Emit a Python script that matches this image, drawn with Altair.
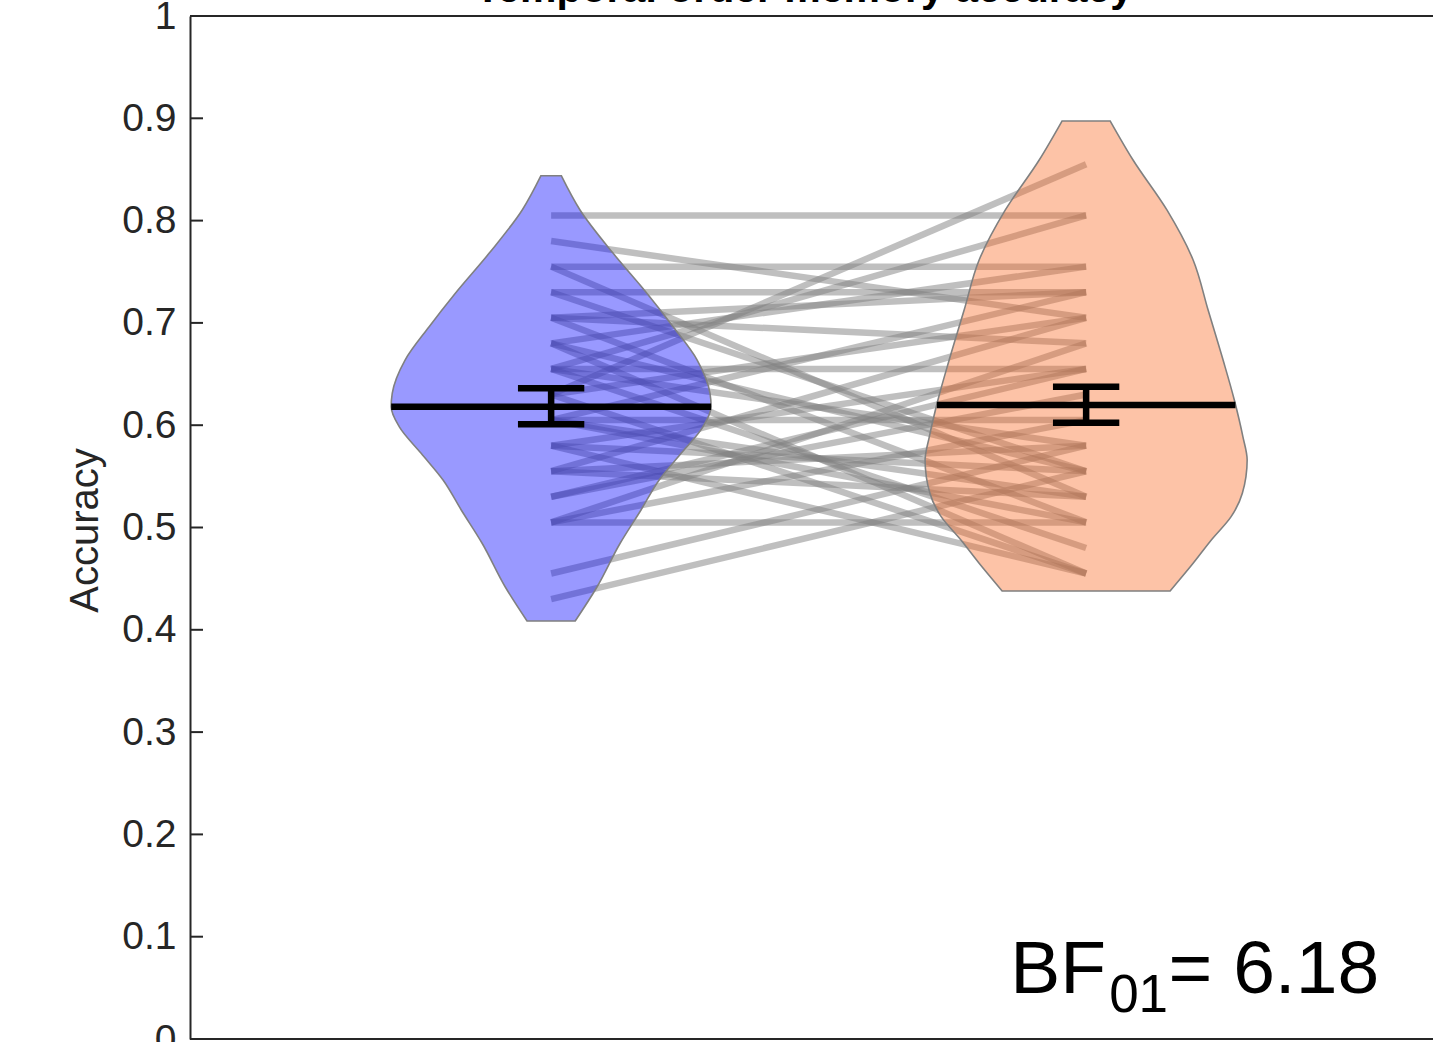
import altair as alt
import pandas as pd

# ---------------- data ----------------
group_pos = [1, 2]

# paired accuracies (left condition -> right condition), one entry per participant
left_acc = [0.805, 0.78, 0.755, 0.755, 0.73, 0.73, 0.705, 0.705, 0.705,
            0.68, 0.68, 0.68, 0.655, 0.655, 0.655, 0.655, 0.63, 0.63, 0.63,
            0.605, 0.605, 0.605, 0.605, 0.58, 0.58, 0.58, 0.555, 0.555, 0.555,
            0.53, 0.53, 0.505, 0.505, 0.505, 0.455, 0.43]
right_acc = [0.805, 0.705, 0.755, 0.53, 0.73, 0.555, 0.68, 0.505, 0.73,
             0.755, 0.555, 0.455, 0.655, 0.58, 0.805, 0.48, 0.855, 0.455, 0.705,
             0.605, 0.73, 0.505, 0.53, 0.655, 0.555, 0.455, 0.705, 0.58, 0.53,
             0.63, 0.655, 0.68, 0.505, 0.605, 0.58, 0.555]

# violin outlines: accuracy level and half-width (x units)
viol_left_y = [0.4086, 0.4421, 0.4846, 0.5171, 0.5464, 0.5725, 0.5986, 0.618,
               0.6312, 0.6637, 0.6963, 0.729, 0.768, 0.8104, 0.8439]
viol_left_hw = [0.045, 0.086, 0.129, 0.168, 0.202, 0.243, 0.284, 0.299,
                0.297, 0.273, 0.228, 0.179, 0.116, 0.054, 0.019]
viol_right_y = [0.438, 0.465, 0.4878, 0.5106, 0.5334, 0.566, 0.5888, 0.6246,
                0.6637, 0.7126, 0.7615, 0.8104, 0.859, 0.8974]
viol_right_hw = [0.157, 0.200, 0.234, 0.271, 0.292, 0.301, 0.293, 0.277,
                 0.256, 0.228, 0.200, 0.151, 0.088, 0.045]

# means and error bars
means = [0.618, 0.6197]
err_lo = [0.601, 0.6025]
err_hi = [0.636, 0.6377]
mean_hw = [0.299, 0.279]
cap_hw = [0.062, 0.062]

tick_values = [0, 0.1, 0.2, 0.3, 0.4, 0.5, 0.6, 0.7, 0.8, 0.9, 1]
bf_parts = ["BF", "01", "= 6.18"]
title_text = ["Temporal order memory accuracy"]
ylabel = "Accuracy"

# ---------------- tables ----------------
pairs = pd.DataFrame({"x1": group_pos[0], "x2": group_pos[1],
                      "y1": left_acc, "y2": right_acc})

rows = []
for g, ys_, hws in [(1, viol_left_y, viol_left_hw), (2, viol_right_y, viol_right_hw)]:
    for y, hw in zip(ys_, hws):
        rows.append({"group": str(g), "y": y, "lo": g - hw, "hi": g + hw})
viol = pd.DataFrame(rows)

stats = pd.DataFrame({"c": group_pos, "m": means, "lo": err_lo, "hi": err_hi,
                      "mhw": mean_hw, "chw": cap_hw})
stats["ml"] = stats["c"] - stats["mhw"]
stats["mr"] = stats["c"] + stats["mhw"]
stats["cl"] = stats["c"] - stats["chw"]
stats["cr"] = stats["c"] + stats["chw"]

ticks = pd.DataFrame({"t": tick_values})

W, H = 1243, 1023
FONT = "Liberation Sans"
AX = "#262626"

xs = alt.Scale(domain=[0.325, 0.325 + W / 535.0], nice=False, zero=False)
ys = alt.Scale(domain=[0, 1], nice=False, zero=False)

yaxis = alt.Axis(values=tick_values, format="~g", ticks=False, grid=False,
                 labelPadding=14, labelFontSize=39, labelFont=FONT, labelColor=AX,
                 domainColor=AX, domainWidth=2, title=ylabel, titleFont=FONT,
                 titleFontSize=40, titleFontWeight="normal", titleColor=AX,
                 titleX=-105, titleY=514, titleBaseline="middle", titleAlign="center")

lines = alt.Chart(pairs).mark_rule(color="#808080", opacity=0.5, strokeWidth=6.5,
                                   strokeCap="butt").encode(
    x=alt.X("x1:Q", scale=xs, axis=None),
    x2="x2:Q",
    y=alt.Y("y1:Q", scale=ys, axis=yaxis),
    y2="y2:Q",
)

violins = alt.Chart(viol).mark_area(orient="horizontal", interpolate="monotone",
                                    fillOpacity=0.4, stroke="#808080",
                                    strokeWidth=1.6).encode(
    y=alt.Y("y:Q", scale=ys),
    x=alt.X("lo:Q", scale=xs),
    x2="hi:Q",
    fill=alt.Fill("group:N", scale=alt.Scale(domain=["1", "2"],
                                             range=["#0000FF", "#FA6923"]),
                  legend=None),
    detail="group:N",
)

mean_lines = alt.Chart(stats).mark_rule(color="black", strokeWidth=6.5,
                                        strokeCap="butt").encode(
    x=alt.X("ml:Q", scale=xs), x2="mr:Q", y=alt.Y("m:Q", scale=ys))
err_v = alt.Chart(stats).mark_rule(color="black", strokeWidth=6.5,
                                   strokeCap="butt").encode(
    x=alt.X("c:Q", scale=xs), y=alt.Y("lo:Q", scale=ys), y2="hi:Q")
cap_lo = alt.Chart(stats).mark_rule(color="black", strokeWidth=6.5,
                                    strokeCap="butt").encode(
    x=alt.X("cl:Q", scale=xs), x2="cr:Q", y=alt.Y("lo:Q", scale=ys))
cap_hi = alt.Chart(stats).mark_rule(color="black", strokeWidth=6.5,
                                    strokeCap="butt").encode(
    x=alt.X("cl:Q", scale=xs), x2="cr:Q", y=alt.Y("hi:Q", scale=ys))

tick_marks = alt.Chart(ticks).mark_rule(color=AX, strokeWidth=2).encode(
    x=alt.value(0), x2=alt.value(13), y=alt.Y("t:Q", scale=ys))

frame = alt.Chart(pd.DataFrame({"b": [0, 1]})).mark_rule(color=AX, strokeWidth=2).encode(
    x=alt.value(0), x2=alt.value(W), y=alt.Y("b:Q", scale=ys))

title_mark = alt.Chart(pd.DataFrame({"t": title_text})).mark_text(
    align="center", baseline="alphabetic", fontSize=41, font=FONT,
    fontWeight="bold", color="black", dy=-14).encode(
    x=alt.datum(1.473, scale=xs), y=alt.datum(1.0, scale=ys), text="t:N")

bf_main = alt.Chart(pd.DataFrame({"t": [bf_parts[0]]})).mark_text(
    align="left", baseline="alphabetic", fontSize=75, font=FONT, color="black").encode(
    x=alt.datum(1.8580, scale=xs), y=alt.datum(0.045, scale=ys), text="t:N")
bf_sub = alt.Chart(pd.DataFrame({"t": [bf_parts[1]]})).mark_text(
    align="left", baseline="alphabetic", fontSize=53, font=FONT, color="black").encode(
    x=alt.datum(2.0430, scale=xs), y=alt.datum(0.0264, scale=ys), text="t:N")
bf_val = alt.Chart(pd.DataFrame({"t": [bf_parts[2]]})).mark_text(
    align="left", baseline="alphabetic", fontSize=75, font=FONT, color="black").encode(
    x=alt.datum(2.1540, scale=xs), y=alt.datum(0.045, scale=ys), text="t:N")

chart = alt.layer(lines, violins, mean_lines, err_v, cap_lo, cap_hi, tick_marks,
                  frame, title_mark, bf_main, bf_sub, bf_val).properties(
    width=W, height=H,
    padding={"left": 190, "top": 16, "right": 0, "bottom": 3},
    autosize=alt.AutoSizeParams(type="none"),
).configure_view(stroke=None).configure(background="white")

chart.save("out.html", embed_options={"renderer": "svg", "actions": False})
